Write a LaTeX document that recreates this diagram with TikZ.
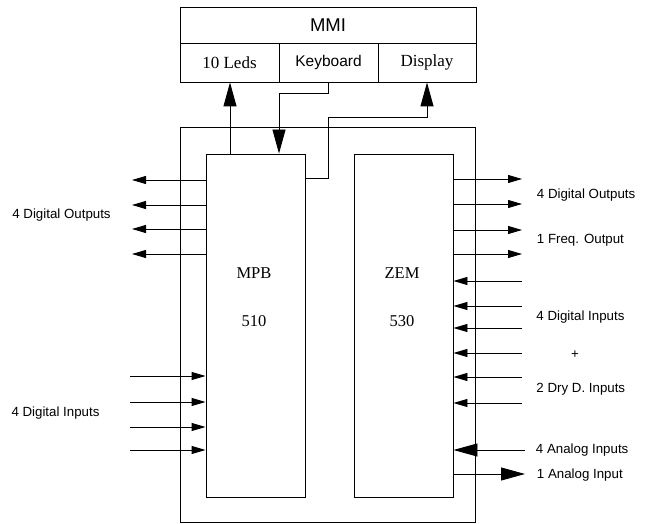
\documentclass[tikz,border=0pt]{standalone}
\usepackage{fontspec}
\setmainfont{Liberation Serif}
\setsansfont{Liberation Sans}
\usetikzlibrary{arrows.meta}
\begin{document}
\begin{tikzpicture}[x=1pt,y=-1pt,line width=0.9pt,
  box/.style={draw,rectangle,inner sep=0pt,anchor=center},
  cell/.style={box,font=\fontsize{17}{17}\selectfont},
  sidelbl/.style={font=\sffamily\fontsize{13.3}{13.3}\selectfont,inner sep=0pt},
  blocklbl/.style={font=\fontsize{16.5}{16.5}\selectfont,inner sep=0pt},
  arrS/.style={-{Triangle[length=14pt,width=8pt]}},
  arrB/.style={-{Triangle[length=24pt,width=13pt]}}]
\useasboundingbox (0,0) rectangle (646,524);
% MMI
\node[box,minimum width=296pt,minimum height=36pt,font=\sffamily\fontsize{18.5}{18.5}\selectfont] (mmi) at (328,25) {MMI};
\node[cell,minimum width=99pt,minimum height=39pt] (leds) at (229.5,62.5) {10 Leds};
\node[box,minimum width=99pt,minimum height=39pt,font=\sffamily\fontsize{15.5}{15.5}\selectfont] (kbd) at (328.5,62.5) {Keyboard};
\node[cell,minimum width=98pt,minimum height=39pt] (disp) at (427,62.5) {Display};
% outer box and blocks
\node[box,minimum width=295pt,minimum height=395pt] (outer) at (327.5,324.5) {};
\node[box,minimum width=99pt,minimum height=343pt] (mpb) at (255.5,325.5) {};
\node[box,minimum width=99pt,minimum height=343pt] (zem) at (403.5,325.5) {};
\node[blocklbl] (mpbname) at (254,273) {MPB};
\node[blocklbl] (mpbnum) at (254,321) {510};
\node[blocklbl] (zemname) at (402,273) {ZEM};
\node[blocklbl] (zemnum) at (402,321) {530};
% MMI connectors
\coordinate (ledsx) at (230,0);
\draw[arrB] (mpb.north -| ledsx) -- (leds.south -| ledsx);
\coordinate (kbbend) at (279,93);
\draw[arrB] (kbd.south) |- (kbbend) -- (kbbend |- mpb.north);
\coordinate (dstart) at (305,178);
\coordinate (dbend) at (328,117);
\draw[arrB] (dstart) -| (dbend) -| (disp.south);
% left outputs
\foreach \y in {180,205,229,254}
  \draw[arrS] (mpb.west |- 0,\y) -- (132,\y);
\node[sidelbl] (lout) at (61.5,215) {4 Digital Outputs};
% left inputs
\foreach \y in {376,402,427,450}
  \draw[arrS] (130,\y) -- (mpb.west |- 0,\y);
\node[sidelbl] (lin) at (55.5,413) {4 Digital Inputs};
% right outputs
\foreach \y in {179,204,230,254}
  \draw[arrS] (zem.east |- 0,\y) -- (522,\y);
% right inputs
\foreach \y in {281,306,328,353,377,403}
  \draw[arrS] (522,\y) -- (zem.east |- 0,\y);
% analog
\draw[arrB] (525,450) -- (zem.east |- 0,450);
\draw[arrB] (zem.east |- 0,474) -- (525,474);
% right labels
\node[sidelbl,anchor=west] (rout) at (536.5,195) {4 Digital Outputs};
\node[sidelbl,anchor=west] (rfreq) at (536.5,240) {1 Freq. Output};
\node[sidelbl,anchor=west] (rin) at (536,317) {4 Digital Inputs};
\node[sidelbl] (rplus) at (575,355) {+};
\node[sidelbl,anchor=west] (rdry) at (536,389) {2 Dry D. Inputs};
\node[sidelbl,anchor=west] (rana) at (535.5,450) {4 Analog Inputs};
\node[sidelbl,anchor=west] (rana1) at (536.5,475) {1 Analog Input};
\end{tikzpicture}
\end{document}
